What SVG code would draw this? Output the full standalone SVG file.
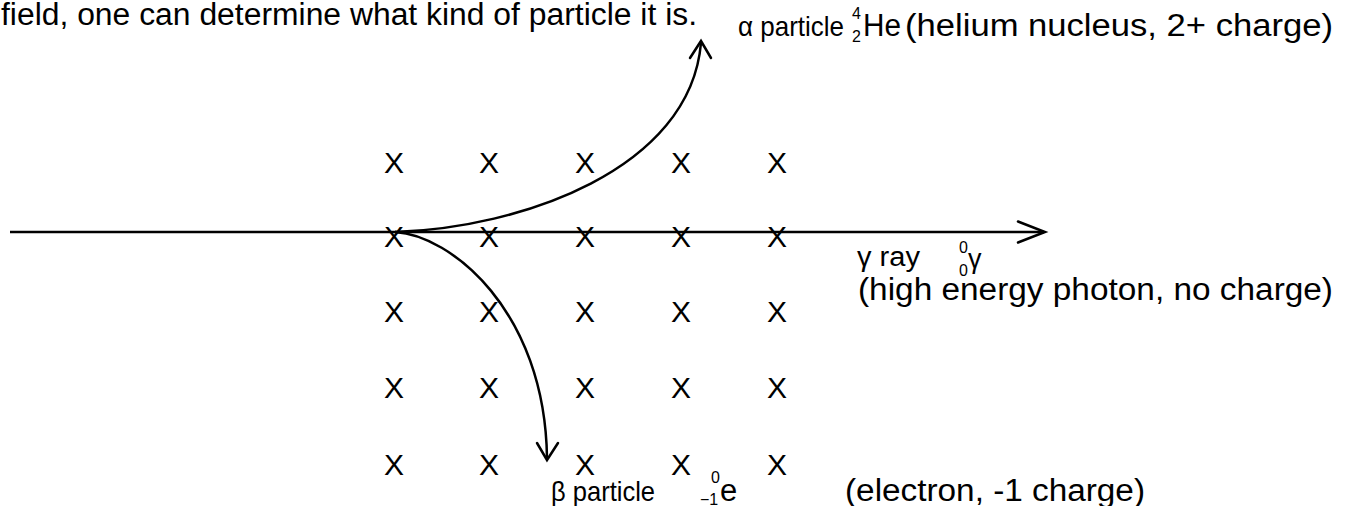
<svg xmlns="http://www.w3.org/2000/svg" width="1346" height="506" viewBox="0 0 1346 506">
<style>
text { font-family: "Liberation Sans", Arial, sans-serif; fill: #000; }
.t { font-size: 31px; }
.p { font-size: 28px; }
.g { font-size: 27px; }
.x { font-size: 30px; text-anchor: middle; }
.sm { font-size: 16px; }
.path { fill: none; stroke: #000; stroke-width: 2.5; }
.head { fill: none; stroke: #000; stroke-width: 2.5; stroke-linecap: round; stroke-linejoin: miter; }
</style>
<rect width="1346" height="506" fill="#fff"/>
<g id="caption">
<text class="t" x="1" y="25" textLength="696" lengthAdjust="spacingAndGlyphs">field, one can determine what kind of particle it is.</text>
</g>
<g id="field">
<text class="x" x="394" y="173">X</text><text class="x" x="489" y="173">X</text><text class="x" x="585" y="173">X</text><text class="x" x="681" y="173">X</text><text class="x" x="777" y="173">X</text>
<text class="x" x="394" y="247">X</text><text class="x" x="489" y="247">X</text><text class="x" x="585" y="247">X</text><text class="x" x="681" y="247">X</text><text class="x" x="777" y="247">X</text>
<text class="x" x="394" y="322">X</text><text class="x" x="489" y="322">X</text><text class="x" x="585" y="322">X</text><text class="x" x="681" y="322">X</text><text class="x" x="777" y="322">X</text>
<text class="x" x="394" y="398">X</text><text class="x" x="489" y="398">X</text><text class="x" x="585" y="398">X</text><text class="x" x="681" y="398">X</text><text class="x" x="777" y="398">X</text>
<text class="x" x="394" y="475">X</text><text class="x" x="489" y="475">X</text><text class="x" x="585" y="475">X</text><text class="x" x="681" y="475">X</text><text class="x" x="777" y="475">X</text>
</g>
<g id="connectors">
<path class="path" d="M10,232 L1044,232"/>
<polyline class="head" points="1018,221.5 1045,232 1018,242.5"/>
<path class="path" d="M395,232 C520,228 690,170 701,43"/>
<polyline class="head" points="690,58 701,41 711,58"/>
<path class="path" d="M395,232 C450,235 545,310 547,458"/>
<polyline class="head" points="537,443 547,460 558,443"/>
</g>
<g id="alpha-label">
<text class="p" x="738" y="36" textLength="106" lengthAdjust="spacingAndGlyphs">α particle</text>
<text class="sm" x="852" y="19">4</text>
<text class="sm" x="852" y="42">2</text>
<text class="t" x="863" y="36" textLength="38" lengthAdjust="spacingAndGlyphs">He</text>
<text class="t" x="905" y="36" textLength="428" lengthAdjust="spacingAndGlyphs">(helium nucleus, 2+ charge)</text>
</g>
<g id="gamma-label">
<text class="g" x="857" y="266" textLength="63" lengthAdjust="spacingAndGlyphs">γ ray</text>
<text class="sm" x="959" y="253">0</text>
<text class="sm" x="959" y="276">0</text>
<text class="g" x="968" y="268">γ</text>
<text class="t" x="858" y="300" textLength="475" lengthAdjust="spacingAndGlyphs">(high energy photon, no charge)</text>
</g>
<g id="beta-label">
<text class="p" x="551" y="501" textLength="104" lengthAdjust="spacingAndGlyphs">β particle</text>
<text class="sm" x="711" y="483">0</text>
<text class="sm" x="700" y="505">−1</text>
<text class="t" x="720" y="501">e</text>
<text class="t" x="845" y="501" textLength="300" lengthAdjust="spacingAndGlyphs">(electron, -1 charge)</text>
</g>
</svg>
